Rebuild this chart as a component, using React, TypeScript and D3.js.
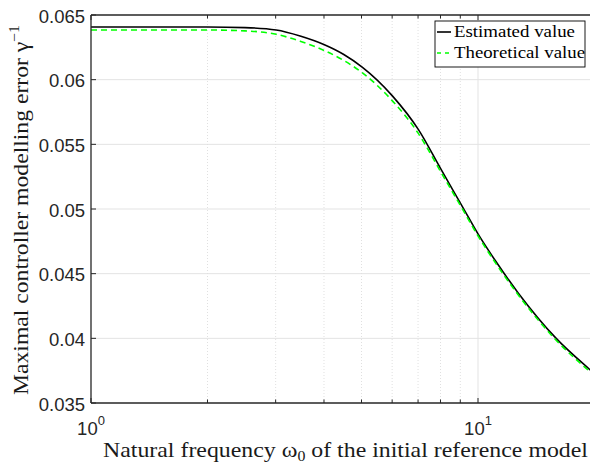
import React from 'react';
import * as d3 from 'd3';

// Natural frequency omega_0 (x) and modelling error values
const omega = [1, 1.5, 2, 2.5, 3.01, 3.47, 4.01, 4.5, 5.02, 6.0, 7.01, 8.0, 9.16, 10, 11.07, 12.7, 15.9, 19.46, 20];
const estimated = [0.064072, 0.064072, 0.064072, 0.064026, 0.06384, 0.063376, 0.0627, 0.061946, 0.060972, 0.058768, 0.056154, 0.053139, 0.050069, 0.048074, 0.046033, 0.043513, 0.040017, 0.037574, 0.037257];
const theoretical = [0.06384, 0.06384, 0.06384, 0.063771, 0.063508, 0.062974, 0.062251, 0.061482, 0.060539, 0.058381, 0.055845, 0.052907, 0.049891, 0.04792, 0.045878, 0.043365, 0.039871, 0.037419, 0.037102];

const yTicks = [0.035, 0.04, 0.045, 0.05, 0.055, 0.06, 0.065];
const yTickLabels = ['0.035', '0.04', '0.045', '0.05', '0.055', '0.06', '0.065'];
const xMajorTicks = [1, 10];
const xMajorExp = ['0', '1'];
const xMinorTicks = [2, 3, 4, 5, 6, 7, 8, 9, 20];
const legendLabels = ['Estimated value', 'Theoretical value'];

const W = 590;
const H = 464;
const left = 91;
const right = 594.5;
const top = 15;
const bottom = 403;

export default function App() {
  const x = d3.scaleLog().domain([1, 20]).range([left, right]);
  const y = d3.scaleLinear().domain([0.035, 0.065]).range([bottom, top]);
  const line = d3
    .line<number>()
    .x((_, i) => x(omega[i]))
    .y((d) => y(d))
    .curve(d3.curveMonotoneX);

  const axisColor = '#262626';
  const serif = '"Liberation Serif", "Times New Roman", serif';
  const sans = '"Liberation Sans", Arial, Helvetica, sans-serif';

  return (
    <svg
      width={W}
      height={H}
      style={{ position: 'absolute', left: 0, top: 0, background: '#fff' }}
    >
      <defs>
        <clipPath id="plotclip">
          <rect x={left} y={top} width={right - left} height={bottom - top} />
        </clipPath>
      </defs>
      <rect x={0} y={0} width={W} height={H} fill="#fff" />
      {/* grid */}
      {yTicks.slice(1, -1).map((t) => (
        <line key={'gy' + t} x1={left} x2={right} y1={y(t)} y2={y(t)} stroke="#e3e3e3" strokeWidth={1} />
      ))}
      {xMinorTicks.map((t) => (
        <line key={'gxm' + t} x1={x(t)} x2={x(t)} y1={top} y2={bottom} stroke="#e0e0e0" strokeWidth={1} strokeDasharray="1,2" />
      ))}
      {xMajorTicks.slice(1).map((t) => (
        <line key={'gx' + t} x1={x(t)} x2={x(t)} y1={top} y2={bottom} stroke="#e3e3e3" strokeWidth={1} />
      ))}
      {/* curves */}
      <g clipPath="url(#plotclip)">
        <path d={line(estimated) || ''} fill="none" stroke="#000" strokeWidth={1.6} />
        <path d={line(theoretical) || ''} fill="none" stroke="#00ff00" strokeWidth={1.6} strokeDasharray="6,4" />
      </g>
      {/* axes box */}
      <line x1={left} x2={right} y1={bottom} y2={bottom} stroke={axisColor} strokeWidth={1.3} />
      <line x1={left} x2={right} y1={top} y2={top} stroke={axisColor} strokeWidth={1.3} />
      <line x1={left} x2={left} y1={top} y2={bottom} stroke={axisColor} strokeWidth={1.3} />
      {/* x ticks */}
      {xMinorTicks.map((t) => (
        <g key={'xt' + t}>
          <line x1={x(t)} x2={x(t)} y1={bottom} y2={bottom - 3.5} stroke={axisColor} strokeWidth={1} />
          <line x1={x(t)} x2={x(t)} y1={top} y2={top + 3.5} stroke={axisColor} strokeWidth={1} />
        </g>
      ))}
      {xMajorTicks.map((t) => (
        <g key={'xT' + t}>
          <line x1={x(t)} x2={x(t)} y1={bottom} y2={bottom - 5} stroke={axisColor} strokeWidth={1} />
          <line x1={x(t)} x2={x(t)} y1={top} y2={top + 5} stroke={axisColor} strokeWidth={1} />
        </g>
      ))}
      {xMajorTicks.map((t, i) => (
        <text key={'xl' + t} x={x(t)} y={435} textAnchor="middle" fontFamily={sans} fontSize={18.5} fill={axisColor}>
          10
          <tspan dy={-10} fontSize={13}>{xMajorExp[i]}</tspan>
        </text>
      ))}
      {/* y ticks */}
      {yTicks.map((t, i) => (
        <g key={'yt' + t}>
          <line x1={left} x2={left + 5} y1={y(t)} y2={y(t)} stroke={axisColor} strokeWidth={1} />
          <text x={85} y={y(t) + 7.5} textAnchor="end" fontFamily={sans} fontSize={18.5} fill={axisColor}>
            {yTickLabels[i]}
          </text>
        </g>
      ))}
      {/* axis labels */}
      <text x={103} y={457} fontFamily={serif} fontSize={21} fill="#1a1a1a" textLength={485} lengthAdjust="spacingAndGlyphs">
        Natural frequency ω<tspan dy={4} fontSize={14}>0</tspan>
        <tspan dy={-4}> of the initial reference model</tspan>
      </text>
      <text
        transform="translate(28.3,395) rotate(-90)"
        x={0}
        y={0}
        fontFamily={serif}
        fontSize={21}
        fill="#1a1a1a"
        textLength={370}
        lengthAdjust="spacingAndGlyphs"
      >
        Maximal controller modelling error γ<tspan dy={-9} fontSize={14}>−1</tspan>
      </text>
      {/* legend */}
      <rect x={435} y={21} width={150} height={46} fill="#fff" stroke="#000" strokeWidth={0.9} />
      <line x1={437} x2={451} y1={32} y2={32} stroke="#000" strokeWidth={1.6} />
      <line x1={437} x2={451} y1={53} y2={53} stroke="#00ff00" strokeWidth={1.6} strokeDasharray="4,4" />
      <text x={454} y={37.3} fontFamily={serif} fontSize={17} fill="#000" textLength={121} lengthAdjust="spacingAndGlyphs">
        {legendLabels[0]}
      </text>
      <text x={454} y={58.3} fontFamily={serif} fontSize={17} fill="#000" textLength={131} lengthAdjust="spacingAndGlyphs">
        {legendLabels[1]}
      </text>
    </svg>
  );
}
